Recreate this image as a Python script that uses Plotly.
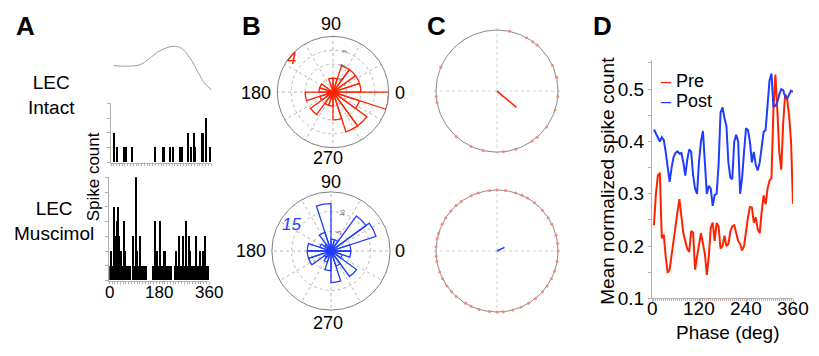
import numpy as np
import plotly.graph_objects as go

W, H = 819, 356
FONT = "Liberation Sans, Arial, sans-serif"
RED = "#ff2200"
BLUE = "#1f3dff"

# ---------------- data ----------------
# Panel A: reference theta waveform (arbitrary units) over one cycle
wave_phase = [0, 49, 98, 134, 171, 220, 250, 281, 311, 336, 360]
wave_amp = [12.3, 11.7, 13.3, 20, 27.7, 32.3, 30, 20, 5, -6.7, -12.7]

# Panel A: spike-count histograms, 5-degree bins
hist_bins = np.arange(2.5, 360, 5)
intact_counts = [0, 0, 2, 0, 1, 0, 0, 0, 0, 1, 1, 0, 0, 0, 0, 1, 0, 0, 0, 0,
                 0, 0, 0, 0, 0, 0, 0, 0, 0, 0, 0, 1, 0, 0, 0, 0, 0, 1, 1, 0,
                 0, 0, 1, 0, 1, 0, 0, 0, 0, 1, 0, 1, 0, 0, 0, 2, 0, 1, 0, 2,
                 1, 0, 0, 0, 0, 2, 2, 0, 3, 0, 0, 1]
muscimol_counts = [1, 2, 1, 5, 3, 4, 5, 3, 2, 1, 4, 2, 1, 1, 1, 1, 0, 3, 1, 7,
                   2, 1, 3, 1, 1, 1, 1, 0, 0, 0, 0, 1, 1, 4, 2, 1, 4, 1, 1, 2,
                   2, 1, 1, 1, 1, 0, 0, 1, 2, 1, 3, 1, 1, 3, 1, 4, 1, 3, 2, 1,
                   1, 1, 3, 1, 1, 2, 1, 2, 2, 3, 1, 1]

# Panel B: rose plots, 20 bins of 18 degrees
rose_centers = np.arange(9, 360, 18)
pre_rose = [2, 2, 2, 2, 1, 1, 0, 0, 1, 1, 2, 1, 2, 1, 1, 2, 3, 3, 2, 4]
post_rose = [5, 12, 11, 3, 3, 12, 5, 2, 3, 6, 6, 6, 2, 3, 5, 8, 4, 8, 3, 5]

# Panel C: spike phases on unit circle and mean resultant vectors
pre_spike_phases = [78, 61, 54, 49, 25, 13, 355, 342, 324, 311, 305, 288, 276,
                    257, 245, 228, 191, 185, 157]
pre_vector_len, pre_vector_ang = 0.415, 320
post_spike_phases = [0, 7, 15, 26, 33, 42, 52, 60, 66, 72, 82, 90, 97, 108, 115,
                     126, 132, 139, 147, 154, 163, 168, 176, 185, 190, 200, 207,
                     215, 222, 228, 239, 245, 253, 263, 270, 276, 285, 293, 301,
                     309, 318, 325, 333, 341, 350]
post_vector_len, post_vector_ang = 0.136, 26

# Panel D: mean normalized spike count vs phase
phase_d = np.arange(5, 361, 5)
pre_mean = [0.24, 0.30, 0.335, 0.34, 0.215, 0.222, 0.18, 0.149, 0.155, 0.185,
            0.215, 0.238, 0.265, 0.29, 0.257, 0.225, 0.21, 0.195, 0.189, 0.229,
            0.226, 0.155, 0.18, 0.205, 0.225, 0.205, 0.185, 0.145, 0.18, 0.235,
            0.245, 0.21, 0.244, 0.238, 0.195, 0.20, 0.22, 0.20, 0.204, 0.228,
            0.238, 0.24, 0.225, 0.21, 0.204, 0.192, 0.20, 0.23, 0.255, 0.275,
            0.274, 0.245, 0.255, 0.232, 0.225, 0.266, 0.297, 0.28, 0.31, 0.325,
            0.33, 0.46, 0.528, 0.46, 0.38, 0.346, 0.436, 0.49, 0.482, 0.45,
            0.40, 0.281]
post_mean = [0.423, 0.415, 0.405, 0.40, 0.408, 0.403, 0.38, 0.35, 0.323, 0.35,
             0.37, 0.378, 0.381, 0.377, 0.378, 0.36, 0.335, 0.365, 0.385, 0.38,
             0.335, 0.31, 0.30, 0.362, 0.40, 0.42, 0.36, 0.30, 0.315, 0.31,
             0.277, 0.298, 0.30, 0.355, 0.455, 0.465, 0.445, 0.43, 0.36, 0.331,
             0.328, 0.40, 0.413, 0.40, 0.30, 0.33, 0.38, 0.425, 0.422, 0.40,
             0.36, 0.38, 0.355, 0.345, 0.36, 0.393, 0.418, 0.422, 0.48, 0.516,
             0.53, 0.467, 0.468, 0.475, 0.49, 0.50, 0.498, 0.485, 0.482, 0.49,
             0.497, 0.495]

d_yticks = [0.1, 0.2, 0.3, 0.4, 0.5]
d_xticks = [0, 120, 240, 360]
hist_xticks = [0, 180, 360]


# ---------------- helpers ----------------
def dx(a, b):
    return [a / W, b / W]


def dy(top, bottom):
    return [1 - bottom / H, 1 - top / H]


def px(x):
    return x / W


def py(y):
    return 1 - y / H


fig = go.Figure()

# waveform
fig.add_trace(go.Scatter(x=wave_phase, y=wave_amp, mode="lines",
                         line=dict(color="#9a9a9a", width=1, shape="spline"),
                         xaxis="x", yaxis="y", hoverinfo="skip"))
# histograms
fig.add_trace(go.Bar(x=hist_bins, y=intact_counts, width=4.2,
                     marker=dict(color="black", line=dict(width=0)),
                     xaxis="x2", yaxis="y2"))
fig.add_trace(go.Bar(x=hist_bins, y=muscimol_counts, width=4.2,
                     marker=dict(color="black", line=dict(width=0)),
                     xaxis="x3", yaxis="y3"))
# roses
fig.add_trace(go.Barpolar(r=pre_rose, theta=rose_centers, width=18,
                          marker=dict(color="rgba(0,0,0,0)", line=dict(color=RED, width=1.3)),
                          subplot="polar"))
fig.add_trace(go.Barpolar(r=post_rose, theta=rose_centers, width=18,
                          marker=dict(color="rgba(0,0,0,0)", line=dict(color=BLUE, width=1.3)),
                          subplot="polar2"))
# C circles
fig.add_trace(go.Scatterpolar(r=[1] * len(pre_spike_phases), theta=pre_spike_phases,
                              mode="markers", marker=dict(color="#f08a7a", size=3),
                              subplot="polar3"))
fig.add_trace(go.Scatterpolar(r=[0, pre_vector_len], theta=[pre_vector_ang] * 2,
                              mode="lines", line=dict(color=RED, width=1.6),
                              subplot="polar3"))
fig.add_trace(go.Scatterpolar(r=[1] * len(post_spike_phases), theta=post_spike_phases,
                              mode="markers", marker=dict(color="#f08a7a", size=3),
                              subplot="polar4"))
fig.add_trace(go.Scatterpolar(r=[0, post_vector_len], theta=[post_vector_ang] * 2,
                              mode="lines", line=dict(color=BLUE, width=1.6),
                              subplot="polar4"))
# D lines
fig.add_trace(go.Scatter(x=phase_d, y=pre_mean, mode="lines",
                         line=dict(color=RED, width=2), xaxis="x4", yaxis="y4"))
fig.add_trace(go.Scatter(x=phase_d, y=post_mean, mode="lines",
                         line=dict(color=BLUE, width=2), xaxis="x4", yaxis="y4"))

AX_GRAY = "#b0b0b0"
hidden = dict(visible=False, showgrid=False, zeroline=False)


def rose_polar(domain_x, domain_y, rmax, rticks):
    return dict(
        domain=dict(x=domain_x, y=domain_y),
        bgcolor="white", bargap=0,
        radialaxis=dict(range=[0, rmax], tickvals=rticks, ticktext=[str(t) for t in rticks],
                        showline=False, ticks="", angle=80, tickangle=0,
                        tickfont=dict(size=6, color="#444", family=FONT),
                        gridcolor="#b8b8b8", griddash="dot", gridwidth=1),
        angularaxis=dict(tickvals=list(range(0, 360, 30)), showticklabels=False,
                         direction="counterclockwise", rotation=0, ticks="",
                         gridcolor="#b8b8b8", griddash="dot", gridwidth=1,
                         showline=True, linecolor="#808080", linewidth=1))


def circ_polar(domain_y):
    return dict(
        domain=dict(x=dx(430.2, 563.8), y=domain_y),
        bgcolor="white",
        radialaxis=dict(range=[0, 1.06], tickvals=[1], showticklabels=False, showline=False,
                        ticks="", gridcolor="#8a8a8a", gridwidth=1.2),
        angularaxis=dict(tickvals=[0, 90, 180, 270], showticklabels=False, ticks="",
                         direction="counterclockwise", rotation=0,
                         gridcolor="#d0d0d0", griddash="dot", gridwidth=1, showline=False))


fig.update_layout(
    width=W, height=H, margin=dict(l=0, r=0, t=0, b=0),
    paper_bgcolor="white", plot_bgcolor="white", showlegend=False,
    font=dict(family=FONT, color="black"), bargap=0,
    xaxis=dict(domain=dx(113.3, 211.7), range=[0, 360], anchor="y", **hidden),
    yaxis=dict(domain=dy(45, 95), range=[-15, 35], anchor="x", **hidden),
    xaxis2=dict(domain=dx(111, 211), range=[0, 360], anchor="y2", showgrid=False, zeroline=False,
                showline=True, linecolor=AX_GRAY, linewidth=1, ticks="outside", dtick=10,
                ticklen=2, tickcolor=AX_GRAY, showticklabels=False),
    yaxis2=dict(domain=dy(106.7, 167.7), range=[0, 4], anchor="x2", showgrid=False, zeroline=False,
                showline=True, linecolor=AX_GRAY, linewidth=1, ticks="outside", dtick=1,
                ticklen=3, tickcolor=AX_GRAY, showticklabels=False),
    xaxis3=dict(domain=dx(109.3, 209.3), range=[0, 360], anchor="y3", showgrid=False, zeroline=False,
                showline=True, linecolor=AX_GRAY, linewidth=1, ticks="outside", dtick=10,
                ticklen=2, tickcolor=AX_GRAY, showticklabels=False),
    yaxis3=dict(domain=dy(183, 289.7), range=[0, 7], anchor="x3", showgrid=False, zeroline=False,
                showline=True, linecolor=AX_GRAY, linewidth=1, ticks="outside", dtick=1,
                ticklen=3, tickcolor=AX_GRAY, showticklabels=False),
    xaxis4=dict(domain=dx(652, 793), range=[0, 360], anchor="y4", showgrid=False, zeroline=False,
                showline=True, linecolor=AX_GRAY, linewidth=1, ticks="outside",
                tickvals=d_xticks, showticklabels=False,
                ticklen=3, tickcolor=AX_GRAY,
                minor=dict(dtick=5, ticks="outside", ticklen=2, tickcolor="#d8a8a8")),
    yaxis4=dict(domain=dy(62.3, 308), range=[0.1, 0.555], anchor="x4", showgrid=False, zeroline=False,
                showline=True, linecolor=AX_GRAY, linewidth=1, ticks="outside",
                tickvals=d_yticks, ticktext=[f"{t:.1f}" for t in d_yticks],
                ticklen=3, tickcolor=AX_GRAY, tickfont=dict(size=19),
                minor=dict(tick0=0.1, dtick=0.05, ticks="outside", ticklen=3, tickcolor=AX_GRAY)),
    polar=rose_polar(dx(275.5, 390.5), dy(37.5, 152.5), 4, [1, 2, 3]),
    polar2=rose_polar(dx(270, 392), dy(198, 320), 15, [5, 10]),
    polar3=circ_polar(dy(27.2, 160.8)),
    polar4=circ_polar(dy(192.2, 325.8)),
)

ann = []


def text(x, y, s, size=17, color="black", angle=0, xanchor="center", xref="paper", xval=None):
    ann.append(dict(x=px(x) if xval is None else xval, y=py(y), xref=xref, yref="paper",
                    text=s, showarrow=False,
                    font=dict(size=size, color=color, family=FONT), textangle=angle,
                    xanchor=xanchor, yanchor="middle"))


for lab, x, y in [("A", 25.5, 27), ("B", 251.5, 26.5), ("C", 436, 26.5), ("D", 602.5, 26.5)]:
    text(x, y, f"<b>{lab}</b>", size=26)
text(51, 98.5, "LEC<br>Intact", size=19)
text(54, 228.5, "LEC<br>Muscimol", size=19)
text(93.5, 182.5, "Spike count", size=17, angle=-90)
text(291.7, 60.8, "<i>4</i>", size=17, color=RED)
text(291.7, 231.5, "<i>15</i>", size=17, color=BLUE)

# rose angular labels (0, 90, 180, 270)
rose_label_pos = {
    "pre": [("0", 400, 96), ("90", 331, 25), ("180", 256, 96), ("270", 328, 163.5)],
    "post": [("0", 400, 259), ("90", 331, 188), ("180", 251, 259), ("270", 328, 333.5)],
}
for key in rose_label_pos:
    for lab, x, y in rose_label_pos[key]:
        text(x, y, lab, size=18)

# histogram phase tick labels
for t in hist_xticks:
    text(0, 302, str(t), size=17, xref="x3", xval=t)
# D tick labels & titles
for t in d_xticks:
    text(0, 318.5, str(t), size=19, xref="x4", xval=t)
text(607.5, 187, "Mean normalized spike count", size=19, angle=-90)
text(727.5, 343, "Phase (deg)", size=19)
text(659, 84, f"<span style='color:{RED}'>–</span> Pre", size=18, xanchor="left")
text(659, 104.5, f"<span style='color:{BLUE}'>–</span> Post", size=18, xanchor="left")
fig.update_layout(annotations=ann)

fig.write_html("out.html", config={"displayModeBar": False},
               post_script="document.body.style.margin='0px';")
